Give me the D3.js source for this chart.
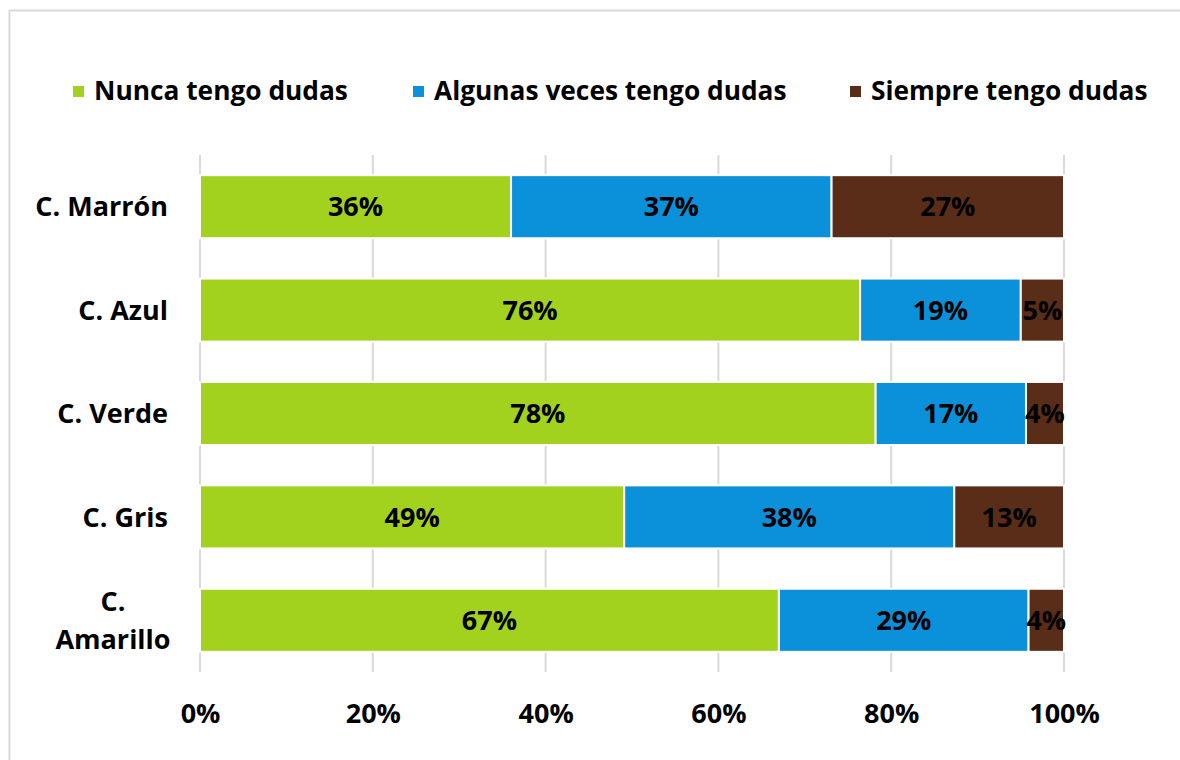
<!DOCTYPE html>
<html>
<head>
<meta charset="utf-8">
<script src="https://cdn.jsdelivr.net/npm/d3@7"></script>
<style>
  body { margin: 0; background: #fff; }
  text { font-family: "Open Sans", sans-serif; font-weight: 700; fill: #000; }
</style>
</head>
<body>
<div id="chart"></div>
<script>
// data
const categories = ["C. Marrón", "C. Azul", "C. Verde", "C. Gris", "C. Amarillo"];
const seriesNames = ["Nunca tengo dudas", "Algunas veces tengo dudas", "Siempre tengo dudas"];
const nunca    = [36.0, 76.4, 78.2, 49.1, 67.0];
const algunas  = [37.1, 18.6, 17.4, 38.2, 28.9];
const siempre  = [26.9, 5.0, 4.4, 12.7, 4.1];
const tickValues = [0, 20, 40, 60, 80, 100];
const colors = ["#a2d21e", "#0b91da", "#5a2d19"];

let width = 1180, height = 760;
let margin = {top: 155, right: 116, bottom: 88, left: 200};

let svg = d3.select("#chart").append("svg")
    .attr("width", width)
    .attr("height", height);

// chart frame
svg.append("rect")
    .attr("x", 9.5).attr("y", 10.5)
    .attr("width", width + 20).attr("height", height + 20)
    .attr("fill", "none")
    .attr("stroke", "#d9d9d9")
    .attr("stroke-width", 2);

let rows = categories.map((c, i) => ({cat: c, s0: nunca[i], s1: algunas[i], s2: siempre[i]}));
let stack = d3.stack().keys(["s0", "s1", "s2"]);
let layers = stack(rows);

let x = d3.scaleLinear()
    .domain([0, 100])
    .range([margin.left, width - margin.right]);

let y = d3.scaleBand()
    .domain(categories)
    .range([margin.top, height - margin.bottom])
    .paddingInner(0.39)
    .paddingOuter(0.195);

// gridlines
svg.append("g")
    .selectAll("line").data(tickValues)
    .enter().append("line")
        .attr("x1", d => x(d)).attr("x2", d => x(d))
        .attr("y1", margin.top).attr("y2", height - margin.bottom)
        .attr("stroke", "#d9d9d9")
        .attr("stroke-width", 2);

// bars
let layerG = svg.append("g").selectAll("g").data(layers)
    .enter().append("g")
        .attr("fill", (d, i) => colors[i]);

layerG.selectAll("rect").data(d => d)
    .enter().append("rect")
        .attr("x", d => x(d[0]))
        .attr("y", d => y(d.data.cat))
        .attr("width", d => x(d[1]) - x(d[0]))
        .attr("height", y.bandwidth())
        .attr("stroke", "#fff")
        .attr("stroke-width", 2);

// data labels
layerG.selectAll("text").data(d => d)
    .enter().append("text")
        .attr("x", d => (x(d[0]) + x(d[1])) / 2)
        .attr("y", d => y(d.data.cat) + y.bandwidth() / 2)
        .attr("dy", "0.36em")
        .attr("text-anchor", "middle")
        .style("font-size", "27px")
        .text(d => Math.round(d[1] - d[0]) + "%");

// x axis labels
let xAxis = svg.append("g")
    .attr("transform", `translate(0, ${height - margin.bottom})`)
    .call(d3.axisBottom(x).tickValues(tickValues).tickFormat(d => d + "%").tickSize(0).tickPadding(32));
xAxis.select(".domain").remove();
xAxis.selectAll("text")
    .style("font-family", "'Open Sans', sans-serif")
    .style("font-weight", 700)
    .style("font-size", "27px")
    .attr("fill", "#000");

// y axis labels (wrapped like the original)
let catG = svg.append("g");
categories.forEach(c => {
    let cy = y(c) + y.bandwidth() / 2;
    if (c === "C. Amarillo") {
        let t = catG.append("text")
            .attr("text-anchor", "middle")
            .style("font-size", "27px");
        t.append("tspan").attr("x", 113).attr("y", cy - 19).attr("dy", "0.36em").text("C.");
        t.append("tspan").attr("x", 113).attr("y", cy + 19).attr("dy", "0.36em").text("Amarillo");
    } else {
        catG.append("text")
            .attr("x", 168)
            .attr("y", cy)
            .attr("dy", "0.36em")
            .attr("text-anchor", "end")
            .style("font-size", "27px")
            .text(c);
    }
});

// legend
let legendX = [73, 413, 850];
let legend = svg.append("g");
seriesNames.forEach((name, i) => {
    legend.append("rect")
        .attr("x", legendX[i]).attr("y", 86)
        .attr("width", 11).attr("height", 11)
        .attr("fill", colors[i]);
    legend.append("text")
        .attr("x", legendX[i] + 21)
        .attr("y", 91)
        .attr("dy", "0.36em")
        .style("font-size", "26.3px")
        .text(name);
});
</script>
</body>
</html>
